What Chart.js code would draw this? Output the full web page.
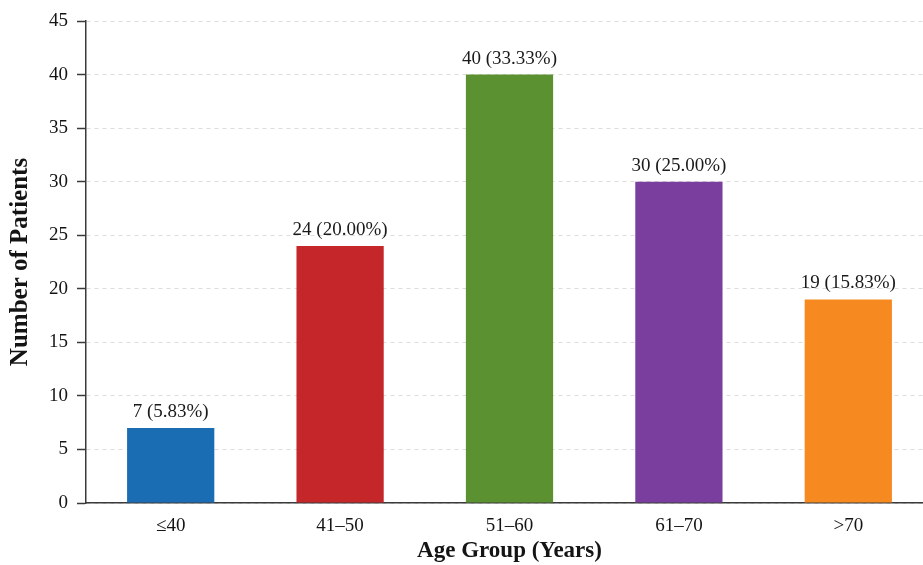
<!DOCTYPE html>
<html>
<head>
<meta charset="utf-8">
<script src="https://cdn.jsdelivr.net/npm/chart.js@4.4.1/dist/chart.umd.min.js"></script>
<style>
  html, body { margin: 0; padding: 0; background: #ffffff; overflow: hidden; }
  #wrap { width: 933px; height: 565px; }
</style>
</head>
<body>
<div id="wrap"><canvas id="c" width="933" height="565"></canvas></div>
<script>
// Patients by age group
const ageGroups = ['\u226440', '41\u201350', '51\u201360', '61\u201370', '>70'];
const patientCounts = [7, 24, 40, 30, 19];
const barColors = ['#1b6db3', '#c4262a', '#5b9130', '#7a3f9e', '#f6891f'];
const yTicks = [0, 5, 10, 15, 20, 25, 30, 35, 40, 45];

const total = patientCounts.reduce((a, b) => a + b, 0);
const serif = '"Liberation Serif", "Times New Roman", serif';

// Writes "n (p%)" above each bar
const valueLabels = {
  id: 'valueLabels',
  afterDatasetsDraw(chart) {
    const ctx = chart.ctx;
    const meta = chart.getDatasetMeta(0);
    ctx.save();
    ctx.font = '19px ' + serif;
    ctx.fillStyle = '#1a1a1a';
    ctx.textAlign = 'center';
    ctx.textBaseline = 'alphabetic';
    meta.data.forEach((bar, i) => {
      const v = patientCounts[i];
      const pct = (v / total * 100).toFixed(2);
      ctx.fillText(v + ' (' + pct + '%)', bar.x, bar.y - 11);
    });
    ctx.restore();
  }
};

new Chart(document.getElementById('c'), {
  type: 'bar',
  data: {
    labels: ageGroups,
    datasets: [{
      data: patientCounts,
      backgroundColor: barColors,
      borderWidth: 0,
      barPercentage: 0.515,
      categoryPercentage: 1.0
    }]
  },
  options: {
    responsive: false,
    animation: false,
    layout: { padding: { top: 21, right: 0, bottom: 0, left: 0 } },
    plugins: {
      legend: { display: false },
      tooltip: { enabled: false }
    },
    scales: {
      x: {
        grid: { display: false },
        border: { display: true, color: '#3a3a3a', width: 1.5 },
        ticks: {
          color: '#141414',
          font: { family: serif, size: 19 },
          padding: 4
        },
        title: {
          display: true,
          text: 'Age Group (Years)',
          color: '#141414',
          font: { family: serif, size: 23, weight: 'bold' },
          padding: { top: 2, bottom: 0 }
        },
        afterFit(scale) { scale.height = 62; }
      },
      y: {
        min: 0,
        max: 45,
        afterBuildTicks(scale) { scale.ticks = yTicks.map(v => ({ value: v })); },
        grid: {
          display: true,
          drawOnChartArea: true,
          drawTicks: true,
          tickLength: 9,
          color: '#dcdcdc',
          lineWidth: 1,
          tickColor: '#3a3a3a',
          tickWidth: 1.5
        },
        border: { display: true, color: '#3a3a3a', width: 1.5, dash: [4, 4] },
        ticks: {
          color: '#141414',
          font: { family: serif, size: 19 },
          padding: 9
        },
        title: {
          display: true,
          text: 'Number of Patients',
          color: '#141414',
          font: { family: serif, size: 25, weight: 'bold' },
          padding: { top: 6, bottom: 0 }
        },
        afterFit(scale) { scale.width = 86; }
      }
    }
  },
  plugins: [valueLabels]
});
</script>
</body>
</html>
